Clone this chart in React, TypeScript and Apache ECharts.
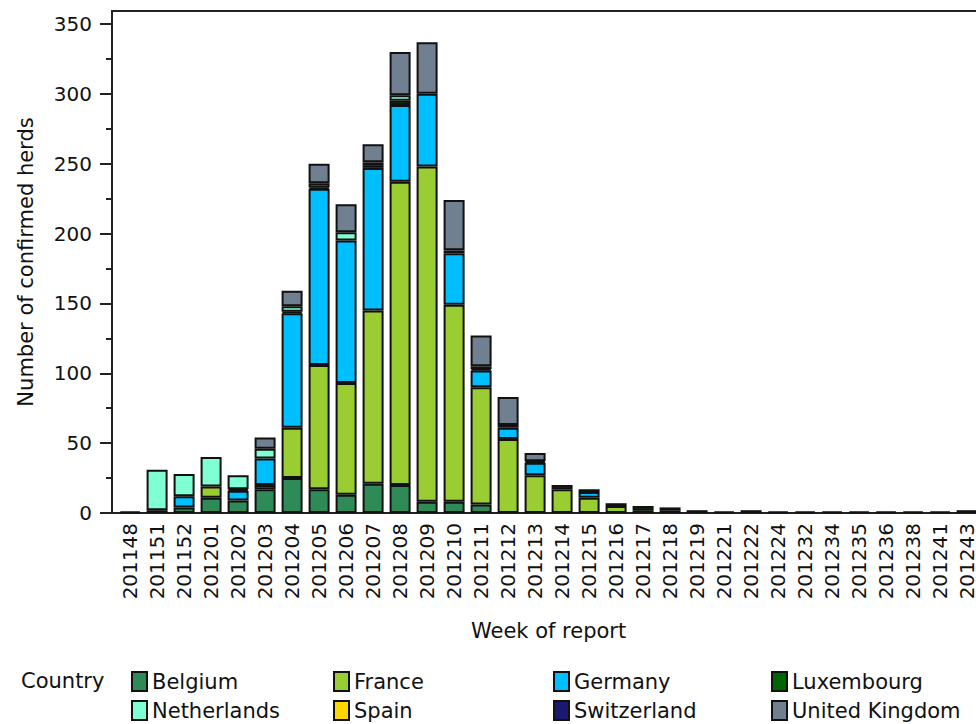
import React, { useEffect, useRef } from 'react';
import * as echarts from 'echarts';

const weeks = [
  '201148', '201151', '201152', '201201', '201202', '201203', '201204', '201205',
  '201206', '201207', '201208', '201209', '201210', '201211', '201212', '201213',
  '201214', '201215', '201216', '201217', '201218', '201219', '201221', '201222',
  '201224', '201232', '201234', '201235', '201236', '201238', '201241', '201243',
];

const countries = ['Belgium', 'France', 'Germany', 'Luxembourg', 'Netherlands', 'Spain', 'Switzerland', 'United Kingdom'];
const countryColors = ['#2E8B57', '#9ACD32', '#00BFFF', '#006400', '#7FFFD4', '#FFD700', '#191970', '#708090'];

const belgium = [1, 2, 4, 11, 9, 17, 25, 17, 13, 21, 20, 8, 8, 6, 0, 0, 0, 0, 0, 0, 0, 0, 0, 0, 0, 0, 0, 0, 0, 0, 0, 0];
const france = [0, 0, 0, 8, 0, 3, 36, 89, 80, 124, 217, 240, 141, 84, 53, 27, 17, 11, 5, 2, 2, 0, 0, 2, 0, 0, 0, 0, 0, 0, 0, 0];
const germany = [0, 0, 8, 0, 7, 19, 82, 126, 102, 102, 55, 52, 37, 12, 8, 9, 0, 4, 0, 0, 0, 0, 0, 0, 0, 0, 0, 0, 0, 0, 0, 0];
const luxembourg = [0, 0, 0, 0, 1, 0, 1, 1, 0, 2, 3, 0, 2, 1, 2, 1, 3, 2, 2, 3, 2, 2, 1, 0, 1, 0, 0, 0, 0, 0, 0, 0];
const netherlands = [0, 29, 16, 21, 10, 7, 4, 3, 6, 2, 4, 0, 0, 0, 0, 0, 0, 0, 0, 0, 0, 0, 0, 0, 0, 0, 0, 0, 0, 0, 0, 0];
const spain = [0, 0, 0, 0, 0, 0, 0, 0, 0, 0, 0, 0, 0, 2, 0, 0, 0, 0, 0, 0, 0, 0, 0, 0, 0, 0, 0, 0, 0, 0, 0, 0];
const switzerland = [0, 0, 0, 0, 0, 0, 0, 0, 0, 0, 0, 0, 0, 0, 0, 0, 0, 0, 0, 0, 0, 0, 0, 0, 0, 1, 1, 1, 1, 1, 1, 2];
const unitedKingdom = [0, 0, 0, 0, 0, 8, 11, 14, 20, 13, 31, 37, 36, 22, 20, 6, 0, 0, 0, 0, 0, 0, 0, 0, 0, 0, 0, 0, 0, 0, 0, 0];

const seriesValues = [belgium, france, germany, luxembourg, netherlands, spain, switzerland, unitedKingdom];

const yMajorTicks = [0, 50, 100, 150, 200, 250, 300, 350];
const yMinorTicks = [25, 75, 125, 175, 225, 275, 325];

const FONT = 'DejaVu Sans';
const TEXT = '#111';
const LINE = '#222';

export default function App() {
  const ref = useRef<HTMLDivElement>(null);
  useEffect(() => {
    if (!ref.current) return;
    const chart = echarts.init(ref.current, null, { renderer: 'svg' });
    const legendBase = {
      orient: 'vertical',
      top: 671,
      itemWidth: 15,
      itemHeight: 19,
      itemGap: 8,
      padding: 0,
      icon: 'rect',
      selectedMode: false,
      textStyle: { fontFamily: FONT, fontSize: 21, color: TEXT },
    };
    chart.setOption({
      animation: false,
      backgroundColor: '#fff',
      textStyle: { fontFamily: FONT },
      grid: { left: 116.6, right: -4.6, top: 11, bottom: 211, containLabel: false, outerBoundsMode: 'none' },
      xAxis: [
        {
          type: 'category',
          data: weeks,
          position: 'bottom',
          axisLine: { show: true, onZero: false, lineStyle: { color: LINE, width: 2 } },
          axisTick: { show: false },
          axisLabel: { rotate: 90, margin: 10, interval: 0, fontFamily: FONT, fontSize: 20, color: TEXT },
          name: 'Week of report',
          nameLocation: 'middle',
          nameGap: 107,
          nameTextStyle: { fontFamily: FONT, fontSize: 21, color: TEXT },
        },
        {
          type: 'category',
          data: weeks,
          position: 'top',
          axisLine: { show: true, onZero: false, lineStyle: { color: LINE, width: 2 } },
          axisTick: { show: false },
          axisLabel: { show: false },
        },
      ],
      yAxis: [
        {
          type: 'value',
          min: 0,
          max: 359.3,
          interval: 50,
          offset: 4.6,
          position: 'left',
          axisLine: { show: true, onZero: false, lineStyle: { color: LINE, width: 2 } },
          axisTick: { show: true, length: 12, customValues: yMajorTicks, lineStyle: { color: LINE, width: 2 } },
          axisLabel: { customValues: yMajorTicks, margin: 20, fontFamily: FONT, fontSize: 20, color: TEXT },
          splitLine: { show: false },
          name: 'Number of confirmed herds',
          nameLocation: 'middle',
          nameGap: 76,
          nameTextStyle: { fontFamily: FONT, fontSize: 21, color: TEXT },
        },
        {
          type: 'value',
          min: 0,
          max: 359.3,
          interval: 25,
          offset: 4.6,
          position: 'left',
          axisLine: { show: false },
          axisTick: { show: true, length: 6, customValues: yMinorTicks, lineStyle: { color: LINE, width: 2 } },
          axisLabel: { show: false },
          splitLine: { show: false },
        },
      ],
      legend: [
        { ...legendBase, left: 131, data: ['Belgium', 'Netherlands'] },
        { ...legendBase, left: 333, data: ['France', 'Spain'] },
        { ...legendBase, left: 553, data: ['Germany', 'Switzerland'] },
        { ...legendBase, left: 771, data: ['Luxembourg', 'United Kingdom'] },
      ],
      graphic: [
        { type: 'line', z: 10, shape: { x1: 111, y1: 513, x2: 118, y2: 513 }, style: { stroke: LINE, lineWidth: 2 } },
        { type: 'line', z: 10, shape: { x1: 111, y1: 11, x2: 118, y2: 11 }, style: { stroke: LINE, lineWidth: 2 } },
        { type: 'text', left: 21, top: 670, style: { text: 'Country', font: `21px "${FONT}"`, fill: TEXT } },
      ],
      series: countries.map((name, i) => ({
        name,
        type: 'bar',
        stack: 'total',
        xAxisIndex: 0,
        yAxisIndex: 0,
        barWidth: 21,
        itemStyle: { color: countryColors[i], borderColor: '#111', borderWidth: 2 },
        data: seriesValues[i].map((v) => (v === 0 ? null : v)),
      })),
    });
    return () => chart.dispose();
  }, []);
  return <div ref={ref} style={{ position: 'fixed', left: 0, top: 0, width: 976, height: 724 }} />;
}
